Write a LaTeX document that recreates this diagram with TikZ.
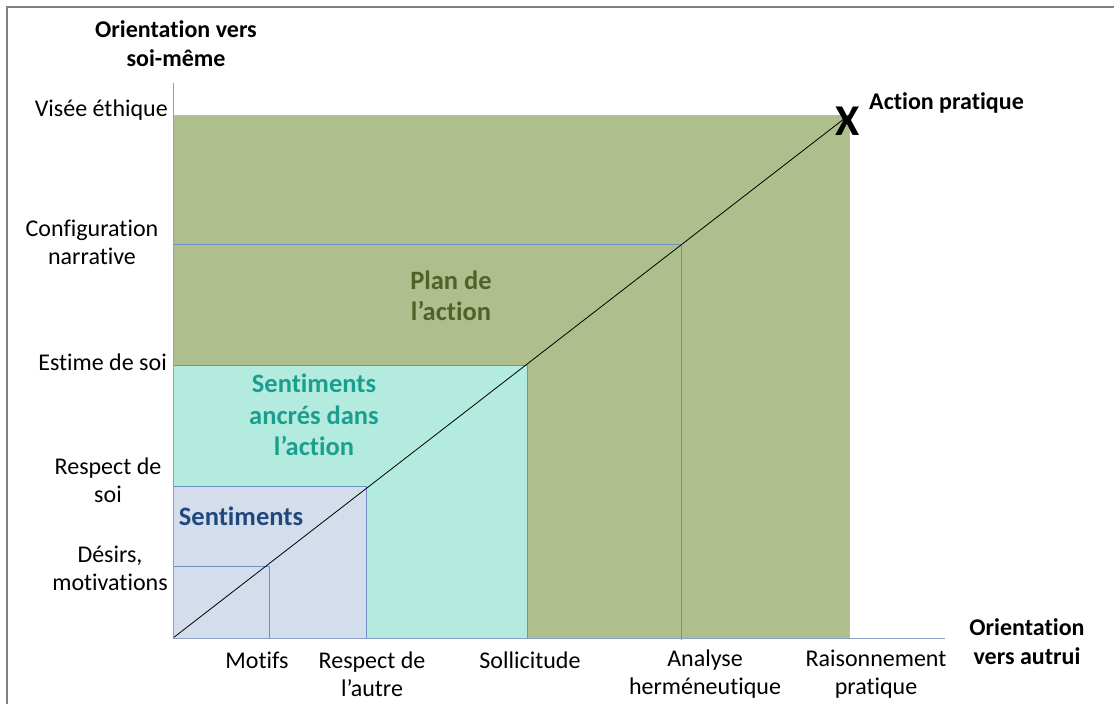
\documentclass[tikz,border=0pt]{standalone}
\usepackage{fontspec}
\setmainfont{Carlito}[Ligatures={NoCommon}]
\definecolor{gfill}{RGB}{174,191,141}
\definecolor{cfill}{RGB}{179,236,223}
\definecolor{lfill}{RGB}{211,221,235}
\definecolor{edge}{RGB}{110,145,195}
\definecolor{axisc}{RGB}{140,160,195}
\definecolor{plantxt}{RGB}{79,98,40}
\definecolor{senttxt}{RGB}{26,158,143}
\definecolor{sentbl}{RGB}{31,73,125}
\definecolor{frame}{RGB}{128,128,128}
\begin{document}
\begin{tikzpicture}[x=1pt,y=-1pt,
  lab/.style={font=\fontsize{24}{28}\selectfont, align=center, inner sep=0pt, text=black},
  blab/.style={lab, font=\fontsize{24}{29}\selectfont\bfseries},
  zone/.style={font=\fontsize{26.5}{31.5}\selectfont\bfseries, align=center, inner sep=0pt},
  region/.style={draw=edge, line width=0.9pt}]
\useasboundingbox (0,0) rectangle (1114,704);
\fill[white] (0,0) rectangle (1114,704);
\draw[frame, line width=2pt] (7,704) -- (7,7) -- (1114,7);
\coordinate (O) at (173,638);
\coordinate (A) at (849,115);
% regions
\fill[gfill] (173,115) rectangle (849,638);
\draw[edge!60, line width=0.9pt] (173,115) -- (849,115) -- (849,638);
\draw[region] (173,244) -- (681,244) -- (681,640);
\filldraw[region, fill=cfill] (173,638) |- (527,365) -- (527,638);
\filldraw[region, fill=lfill] (173,638) |- (366,486) -- (366,638);
\draw[region] (173,566) -- (269,566) -- (269,638);
% diagonal
\draw[black, line width=0.8pt] (O) -- (A);
% axes
\draw[axisc, line width=1pt] (173,83) -- (O) -- (945,638);
% X marker
\node[font=\fontsize{44}{44}\selectfont\bfseries, inner sep=0pt] (X) at (848,121) {X};
% axis titles
\node[blab] (oy) at (176,44) {Orientation vers\\soi-même};
\node[blab] (ox) at (1027,642) {Orientation\\vers autrui};
\node[blab, anchor=west] (ap) at (869,103) {Action pratique};
% y labels
\node[lab, anchor=east] (y1) at (168,110) {Visée éthique};
\node[lab] (y2) at (92,242) {Configuration\\narrative};
\node[lab, anchor=east] (y3) at (167,362) {Estime de soi};
\node[lab] (y4) at (108,480) {Respect de\\soi};
\node[lab] (y5) at (110,568) {Désirs,\\motivations};
% x labels
\node[lab] (x1) at (257,660) {Motifs};
\node[lab] (x2) at (372,674) {Respect de\\l’autre};
\node[lab] (x3) at (530,660) {Sollicitude};
\node[lab] (x4) at (705,674) {Analyse\\herméneutique};
\node[lab] (x5) at (876,674) {Raisonnement\\pratique};
% zone labels
\node[zone, text=plantxt] (z1) at (451,296) {Plan de\\l’action};
\node[zone, text=senttxt] (z2) at (314,415) {Sentiments\\ancrés dans\\l’action};
\node[zone, text=sentbl] (z3) at (241,516) {Sentiments};
\end{tikzpicture}
\end{document}
